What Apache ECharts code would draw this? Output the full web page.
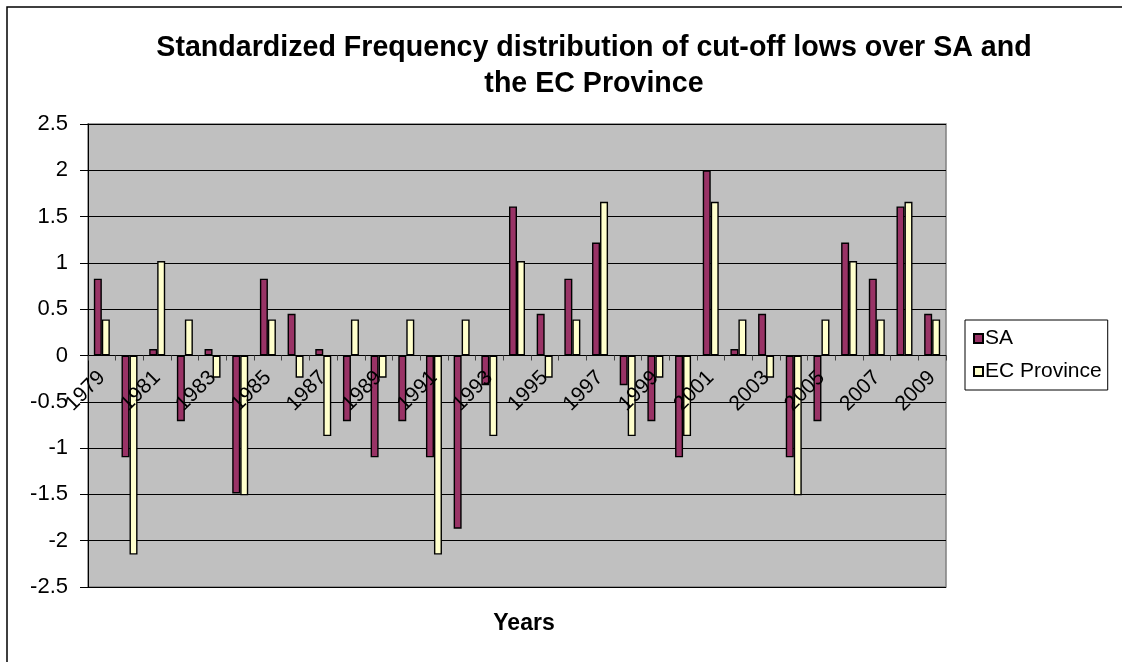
<!DOCTYPE html>
<html>
<head>
<meta charset="utf-8">
<script src="https://cdn.jsdelivr.net/npm/echarts@6/dist/echarts.min.js"></script>
<style>
html,body{margin:0;padding:0;background:#fff;}
#c{width:1122px;height:662px;}
</style>
</head>
<body>
<div id="c"></div>
<script>
const years = ['1979','1980','1981','1982','1983','1984','1985','1986','1987','1988','1989','1990','1991','1992','1993','1994','1995','1996','1997','1998','1999','2000','2001','2002','2003','2004','2005','2006','2007','2008','2009'];
const saValues = [0.83,-1.1,0.07,-0.71,0.07,-1.49,0.83,0.45,0.07,-0.71,-1.1,-0.71,-1.1,-1.87,-0.32,1.61,0.45,0.83,1.22,-0.32,-0.71,-1.1,2.0,0.07,0.45,-1.1,-0.71,1.22,0.83,1.61,0.45];
const ecValues = [0.39,-2.15,1.02,0.39,-0.24,-1.51,0.39,-0.24,-0.87,0.39,-0.24,0.39,-2.15,0.39,-0.87,1.02,-0.24,0.39,1.66,-0.87,-0.24,-0.87,1.66,0.39,-0.24,-1.51,0.39,1.02,0.39,1.66,0.39];
const titleLines = ['Standardized Frequency distribution of cut-off lows over SA and', 'the EC Province'];
const xAxisTitle = 'Years';

const FONT = "'Liberation Sans', Arial, sans-serif";
const GRID_TOP = 124, GRID_BOTTOM = 75, H = 662;
const gridH = H - GRID_TOP - GRID_BOTTOM;
const yMin = -2.5, yMax = 2.5;
// offset of the category axis so that it sits on the zero line (labels next to axis)
const zeroOffset = -gridH * (0 - yMin) / (yMax - yMin);

const chart = echarts.init(document.getElementById('c'));
chart.setOption({
  backgroundColor: '#fff',
  animation: false,
  textStyle: { fontFamily: FONT },
  grid: {
    left: 88, right: 176, top: GRID_TOP, bottom: GRID_BOTTOM,
    show: true, backgroundColor: '#c0c0c0', borderColor: '#808080', borderWidth: 1.5
  },
  legend: {
    orient: 'vertical',
    left: 965, top: 320,
    padding: [8, 6, 8, 8],
    itemGap: 12,
    borderColor: '#000', borderWidth: 1,
    backgroundColor: '#fff',
    icon: 'rect', itemWidth: 9, itemHeight: 9,
    textStyle: { fontSize: 21, color: '#000', fontFamily: FONT, padding: [0, 0, 0, -3] },
    data: ['SA', 'EC Province']
  },
  xAxis: {
    type: 'category',
    data: years,
    position: 'bottom',
    offset: zeroOffset,
    z: 5,
    axisLine: { onZero: false, lineStyle: { color: '#000', width: 1 } },
    axisTick: { show: true, interval: 0, length: 5, lineStyle: { color: '#444' } },
    axisLabel: { interval: 1, rotate: 45, fontSize: 21, color: '#000', margin: 19, fontFamily: FONT },
    splitLine: { show: false }
  },
  yAxis: {
    type: 'value',
    min: yMin, max: yMax, interval: 0.5,
    axisLine: { show: true, lineStyle: { color: '#000', width: 1 } },
    axisTick: { show: true, length: 8, lineStyle: { color: '#000' } },
    axisLabel: { fontSize: 22, color: '#000', margin: 20, fontFamily: FONT },
    splitLine: { show: true, lineStyle: { color: '#000', width: 1 } }
  },
  series: [
    {
      name: 'SA', type: 'bar', data: saValues,
      barWidth: 8, barGap: '0%',
      itemStyle: { color: '#993366', borderColor: '#000', borderWidth: 1.4 }
    },
    {
      name: 'EC Province', type: 'bar', data: ecValues,
      barWidth: 8, barGap: '0%',
      itemStyle: { color: '#ffffcc', borderColor: '#000', borderWidth: 1.4 }
    }
  ],
  graphic: [
    { type: 'rect', shape: { x: 7, y: 7, width: 1300, height: 1000 }, style: { fill: 'none', stroke: '#000', lineWidth: 1.5 }, silent: true, z: 100 },
    { type: 'text', x: 594, y: 48, style: { text: titleLines[0], font: "bold 28.6px " + FONT, fill: '#000', align: 'center', verticalAlign: 'middle' } },
    { type: 'text', x: 594, y: 84, style: { text: titleLines[1], font: "bold 28.6px " + FONT, fill: '#000', align: 'center', verticalAlign: 'middle' } },
    { type: 'text', x: 524, y: 624, style: { text: xAxisTitle, font: "bold 23px " + FONT, fill: '#000', align: 'center', verticalAlign: 'middle' } }
  ]
});
</script>
</body>
</html>
